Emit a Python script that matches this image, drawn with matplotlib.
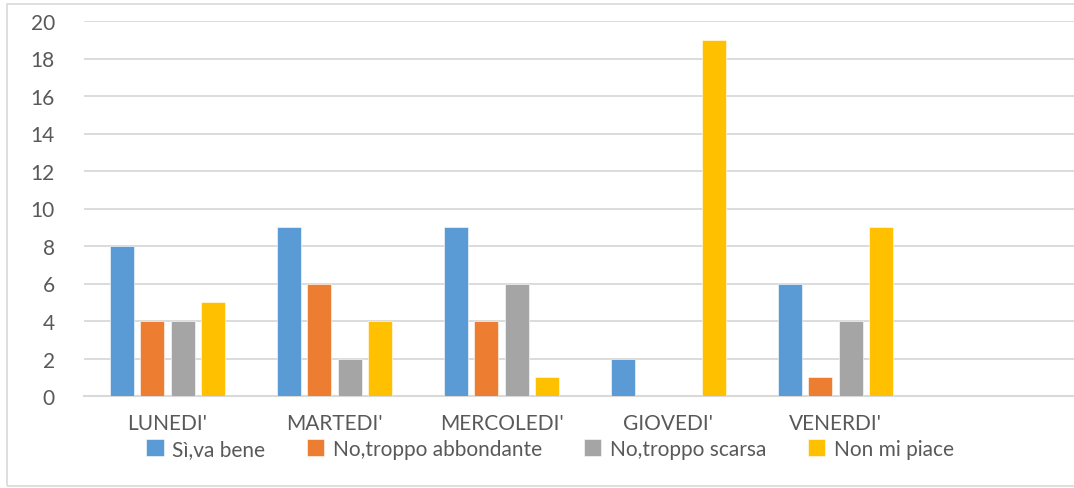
import matplotlib
matplotlib.use("Agg")
import matplotlib.pyplot as plt
from matplotlib.patches import Rectangle
import numpy as np

days = ["LUNEDI'", "MARTEDI'", "MERCOLEDI'", "GIOVEDI'", "VENERDI'", ""]
series_names = ["Sì,va bene", "No,troppo abbondante", "No,troppo scarsa", "Non mi piace"]
si_va_bene = [8, 9, 9, 2, 6, 0]
troppo_abbondante = [4, 6, 4, 0, 1, 0]
troppo_scarsa = [4, 2, 6, 0, 4, 0]
non_mi_piace = [5, 4, 1, 19, 9, 0]
yticks = [0, 2, 4, 6, 8, 10, 12, 14, 16, 18, 20]

colors = ["#5B9BD5", "#ED7D31", "#A5A5A5", "#FFC000"]
text_color = "#595959"
grid_color = "#D9D9D9"

plt.rcParams['font.family'] = ['Lato', 'DejaVu Sans']

fig = plt.figure(figsize=(10.74, 4.89), dpi=100)
fig.patches.append(Rectangle((7 / 1074, 2 / 489), 1.2, 1 - 7 / 489,
                             transform=fig.transFigure, fill=False,
                             edgecolor=grid_color, linewidth=1.2, zorder=0))

ax = fig.add_axes([84 / 1074, 1 - 397 / 489, 1 - 84 / 1074, (397 - 22) / 489])

x = np.arange(len(days))
step = 0.183
width = 0.144
all_series = [si_va_bene, troppo_abbondante, troppo_scarsa, non_mi_piace]
for i, (vals, name, c) in enumerate(zip(all_series, series_names, colors)):
    ax.bar(x + (i - 1.5) * step, vals, width, color=c, label=name,
           edgecolor="white", linewidth=0.4, zorder=3)

ax.set_xlim(-0.5, (1074 - 84) / 167 - 0.5)
ax.set_ylim(0, 20)
ax.set_yticks(yticks)
ax.yaxis.grid(True, color=grid_color, linewidth=1.3, zorder=0)
ax.set_axisbelow(True)
for s in ["top", "right", "left"]:
    ax.spines[s].set_visible(False)
ax.spines["bottom"].set_color(grid_color)
ax.spines["bottom"].set_linewidth(1.5)
ax.tick_params(axis="y", length=0, pad=21, labelsize=15, labelcolor=text_color)
ax.tick_params(axis="x", length=0, pad=12, labelsize=15, labelcolor=text_color)
ax.set_xticks(x)
ax.set_xticklabels(days)

fig.legend(loc="center", bbox_to_anchor=(0.512, 1 - 450 / 489), ncol=4,
           frameon=False, fontsize=15, labelcolor=text_color,
           handlelength=0.85, handleheight=0.85, handletextpad=0.4,
           columnspacing=2.0, borderaxespad=0)

fig.savefig("out.png", dpi=100)
